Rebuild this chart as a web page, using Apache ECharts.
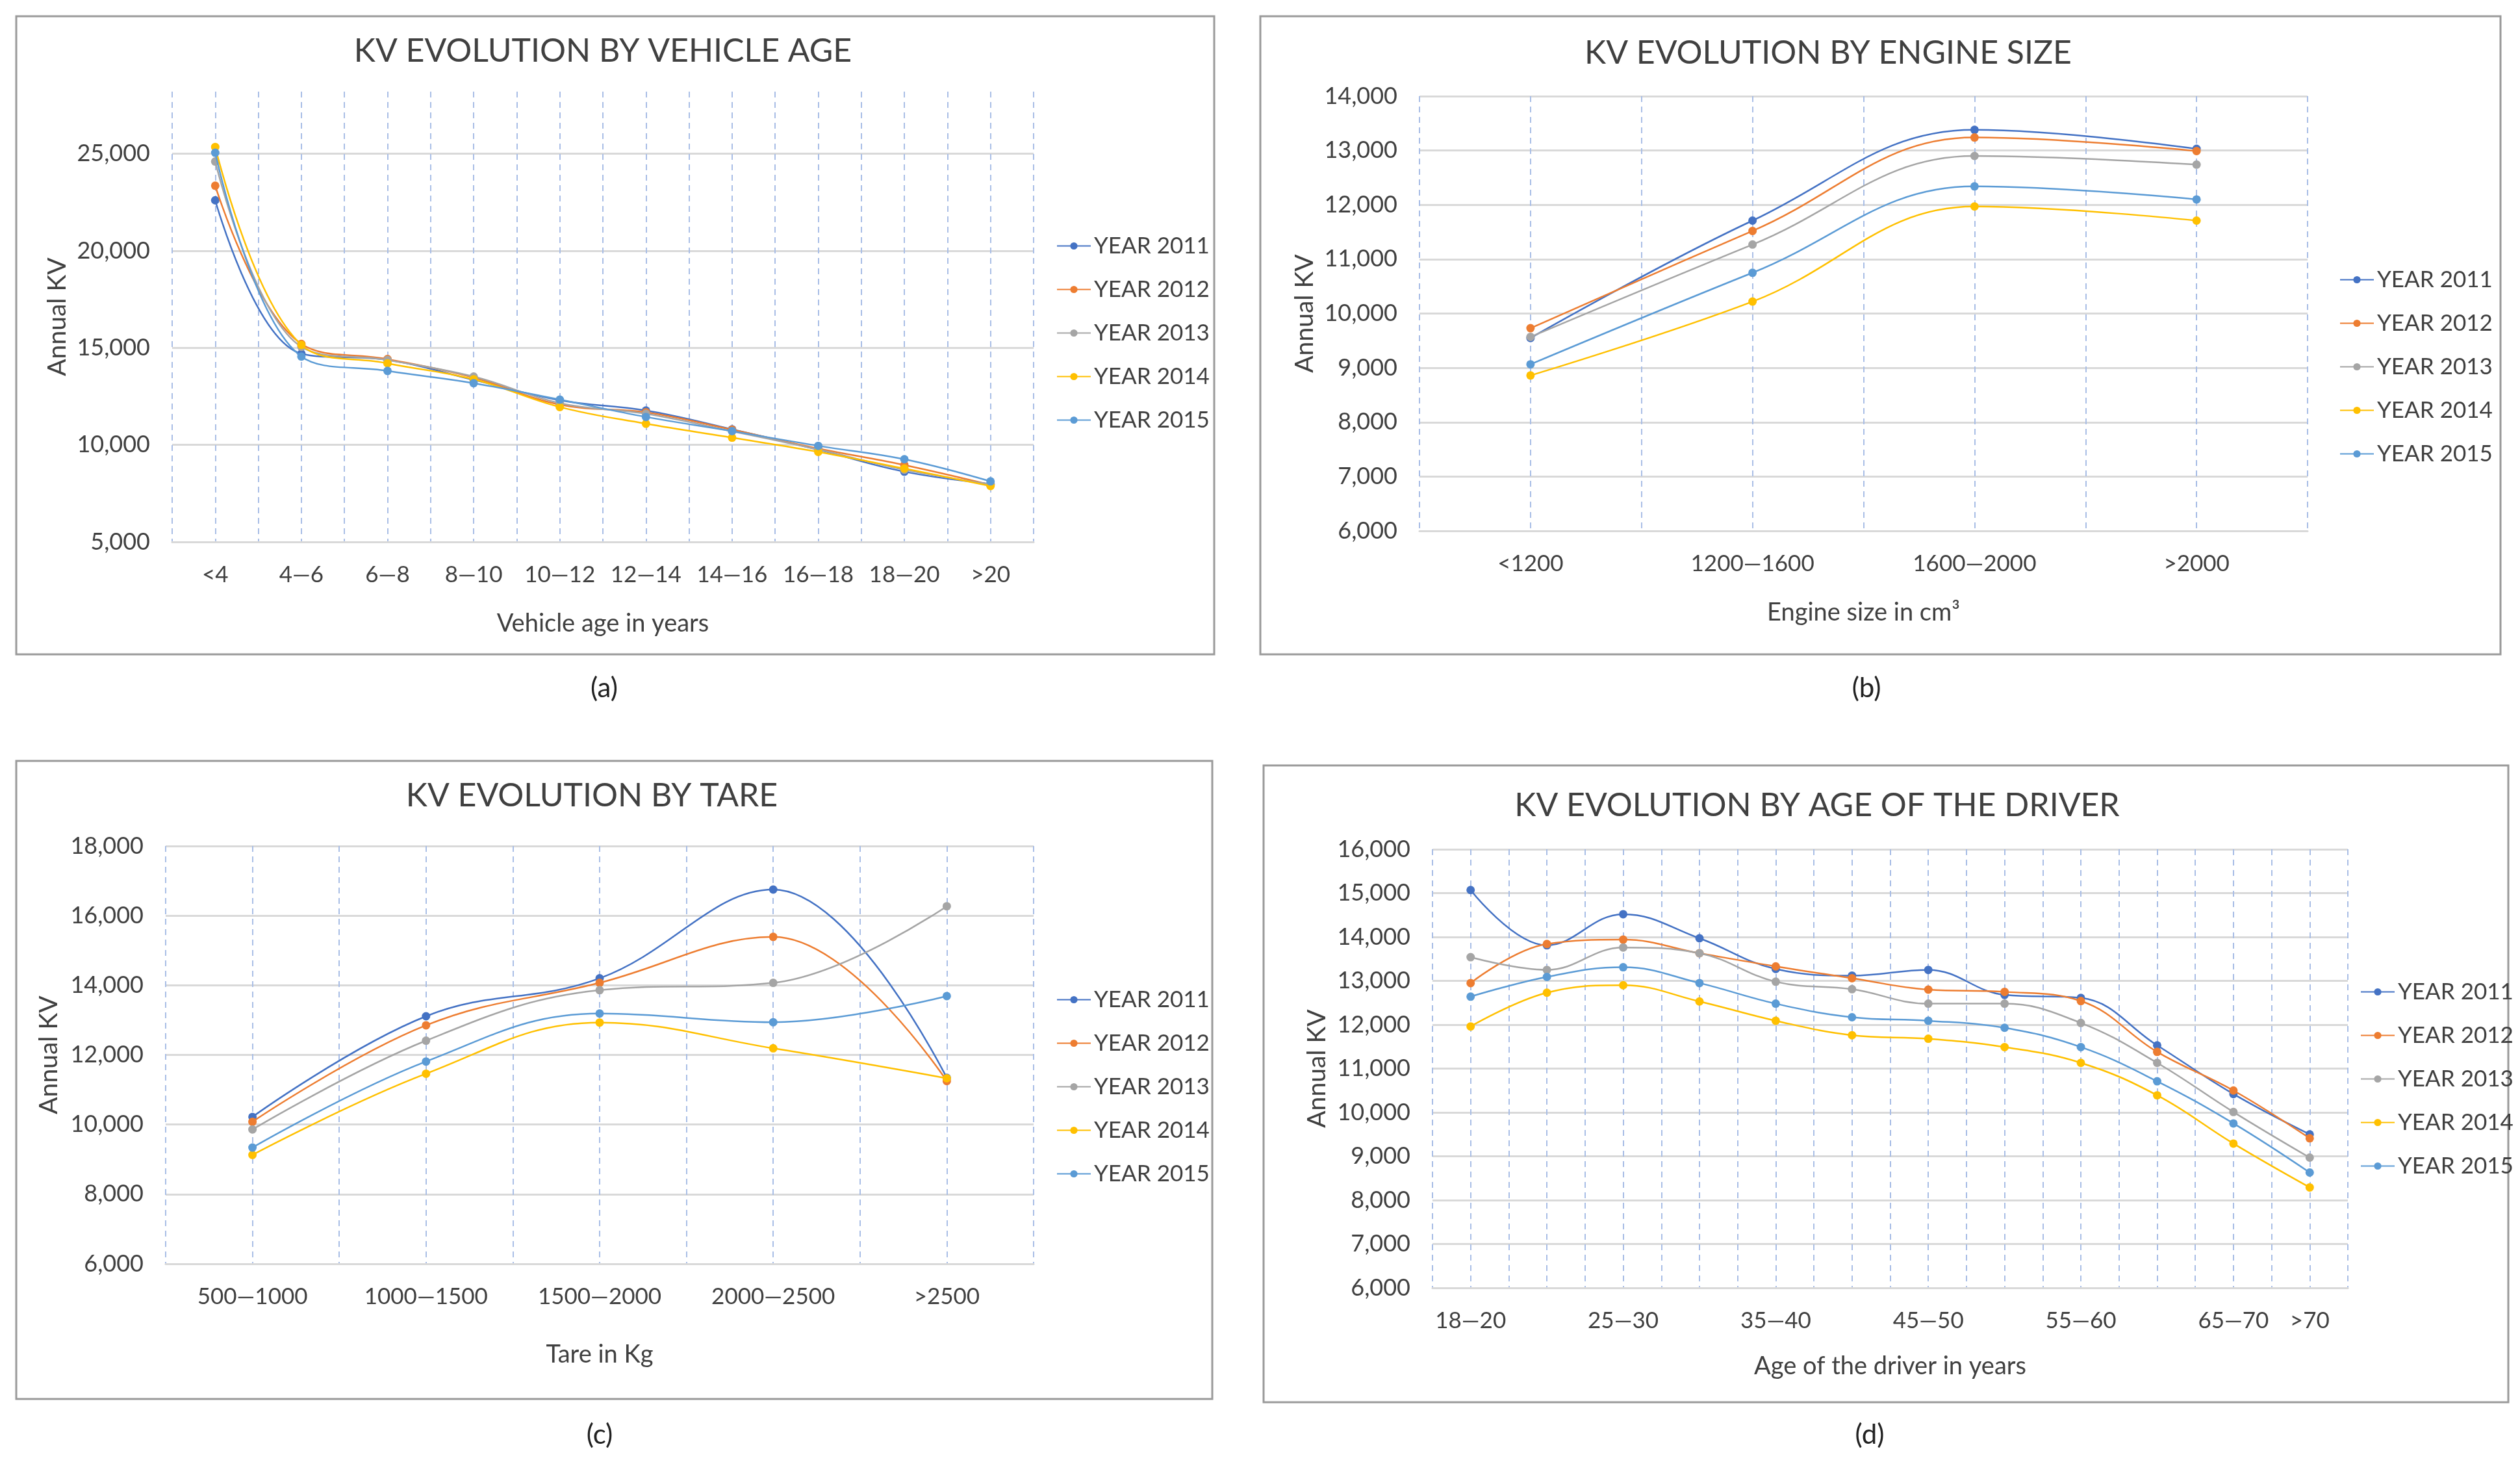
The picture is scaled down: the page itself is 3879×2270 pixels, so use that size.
<!DOCTYPE html>
<html>
<head>
<meta charset="utf-8">
<script src="https://cdn.jsdelivr.net/npm/echarts@6/dist/echarts.min.js"></script>
<style>
html,body{margin:0;padding:0;background:#fff;}
#main{width:3879px;height:2270px;}
</style>
</head>
<body>
<div id="main"></div>
<script>
// ---------- DATA ----------
const yearNames = ['YEAR 2011', 'YEAR 2012', 'YEAR 2013', 'YEAR 2014', 'YEAR 2015'];

const vehicleAgeCats = ['<4', '4—6', '6—8', '8—10', '10—12', '12—14', '14—16', '16—18', '18—20', '>20'];
const a2011 = [22600, 14700, 14380, 13350, 12300, 11770, 10800, 9750, 8620, 7990];
const a2012 = [23350, 15200, 14420, 13470, 12070, 11680, 10780, 9810, 8960, 7940];
const a2013 = [24600, 15050, 14370, 13520, 12150, 11600, 10700, 9760, 8720, 7970];
const a2014 = [25350, 15150, 14200, 13380, 11950, 11090, 10370, 9640, 8780, 7880];
const a2015 = [25050, 14550, 13810, 13180, 12330, 11440, 10710, 9950, 9260, 8120];

const engineCats = ['<1200', '1200—1600', '1600—2000', '>2000'];
const b2011 = [9550, 11710, 13380, 13030];
const b2012 = [9730, 11520, 13240, 12990];
const b2013 = [9570, 11270, 12900, 12740];
const b2014 = [8860, 10220, 11970, 11710];
const b2015 = [9065, 10750, 12340, 12100];

const tareCats = ['500—1000', '1000—1500', '1500—2000', '2000—2500', '>2500'];
const c2011 = [10220, 13110, 14200, 16750, 11340];
const c2012 = [10080, 12850, 14070, 15390, 11250];
const c2013 = [9860, 12410, 13860, 14070, 16270];
const c2014 = [9130, 11460, 12930, 12190, 11330];
const c2015 = [9340, 11810, 13190, 12940, 13690];

const driverCats = ['18—20', '20—25', '25—30', '30—35', '35—40', '40—45', '45—50', '50—55', '55—60', '60—65', '65—70', '>70'];
const d2011 = [15070, 13810, 14520, 13970, 13270, 13120, 13250, 12680, 12610, 11530, 10420, 9500];
const d2012 = [12950, 13840, 13940, 13630, 13330, 13060, 12800, 12750, 12540, 11380, 10500, 9410];
const d2013 = [13540, 13250, 13760, 13630, 12980, 12810, 12480, 12480, 12040, 11130, 10010, 8970];
const d2014 = [11960, 12730, 12900, 12530, 12090, 11760, 11680, 11490, 11130, 10390, 9290, 8290];
const d2015 = [12640, 13090, 13310, 12950, 12480, 12170, 12090, 11930, 11490, 10710, 9750, 8630];

const titles = ['KV EVOLUTION BY VEHICLE AGE', 'KV EVOLUTION BY ENGINE SIZE', 'KV EVOLUTION BY TARE', 'KV EVOLUTION BY AGE OF THE DRIVER'];
const xNames = ['Vehicle age in years', 'Engine size in cm³', 'Tare in Kg', 'Age of the driver in years'];
const yName = 'Annual KV';
const captions = ['(a)', '(b)', '(c)', '(d)'];

// ---------- STYLE / LAYOUT ----------
const colors = ['#4472C4', '#ED7D31', '#A5A5A5', '#FFC000', '#5B9BD5'];
const FONT = 'Lato';
const TXT = '#404040';
const GRIDC = '#D9D9D9';
const VGRIDC = '#A9BEE6';

const panels = [
  { cats: vehicleAgeCats, data: [a2011, a2012, a2013, a2014, a2015], min: 5000, max: 28200, interval: 5000,
    grid: { left: 265, top: 141, width: 1326, height: 693 }, box: [25, 25, 1844, 982],
    titleXY: [928, 79], legend: [1621, 356], yGap: 157, xGap: 107, cap: [930, 1059] },
  { cats: engineCats, data: [b2011, b2012, b2013, b2014, b2015], min: 6000, max: 14000, interval: 1000,
    grid: { left: 2185, top: 148, width: 1367, height: 669 }, box: [1940, 25, 1909, 982],
    titleXY: [2814, 82], legend: [3596, 408], yGap: 157, xGap: 107, cap: [2873, 1059] },
  { cats: tareCats, data: [c2011, c2012, c2013, c2014, c2015], min: 6000, max: 18000, interval: 2000,
    grid: { left: 255, top: 1302, width: 1336, height: 643 }, box: [25, 1171, 1841, 982],
    titleXY: [911, 1225], legend: [1621, 1516], yGap: 160, xGap: 121, cap: [923, 2208] },
  { cats: driverCats, data: [d2011, d2012, d2013, d2014, d2015], min: 6000, max: 16000, interval: 1000,
    grid: { left: 2205, top: 1307, width: 1409, height: 675 }, box: [1945, 1178, 1916, 980],
    titleXY: [2797, 1240], legend: [3628, 1504], yGap: 158, xGap: 102, cap: [2878, 2208] }
];

const fmt = v => v.toLocaleString('en-US');

const grids = [], xAxes = [], yAxes = [], series = [], legends = [], graphics = [];

panels.forEach((p, i) => {
  grids.push(Object.assign({ outerBoundsMode: 'none', containLabel: false }, p.grid));
  // category axis
  xAxes.push({
    type: 'category', gridIndex: i, data: p.cats, boundaryGap: true,
    axisLine: { show: true, lineStyle: { color: GRIDC, width: 3 } },
    axisTick: { show: false },
    splitLine: { show: false },
    axisLabel: {
      color: TXT, fontFamily: FONT, fontSize: 35, margin: 33,
      interval: i === 3 ? (idx => idx % 2 === 0 || idx === p.cats.length - 1) : 0
    },
    name: xNames[i], nameLocation: 'middle', nameGap: p.xGap,
    nameTextStyle: { color: TXT, fontFamily: FONT, fontSize: 38 }
  });
  // helper value axis for dashed vertical gridlines (category centres and boundaries)
  xAxes.push({
    type: 'value', gridIndex: i, min: 0, max: p.cats.length, interval: 0.5,
    axisLine: { show: false }, axisTick: { show: false }, axisLabel: { show: false },
    splitLine: { show: true, lineStyle: { color: VGRIDC, width: 2, type: [9, 7] } }
  });
  yAxes.push({
    type: 'value', gridIndex: i, min: p.min, max: p.max, interval: p.interval,
    axisLine: { show: false }, axisTick: { show: false },
    axisLabel: { color: TXT, fontFamily: FONT, fontSize: 36, margin: 34, formatter: fmt, showMaxLabel: i !== 0 },
    splitLine: { show: true, showMaxLine: i !== 0, lineStyle: { color: GRIDC, width: 3 } },
    name: yName, nameLocation: 'middle', nameRotate: 90, nameGap: p.yGap,
    nameTextStyle: { color: TXT, fontFamily: FONT, fontSize: 39 }
  });
  p.data.forEach((arr, k) => {
    series.push({
      type: 'line', name: yearNames[k], xAxisIndex: i * 2, yAxisIndex: i,
      data: arr, smooth: 0.4, symbol: 'circle', symbolSize: 13, showSymbol: true,
      lineStyle: { color: colors[k], width: 2.5 },
      itemStyle: { color: colors[k] },
      z: 3 + k
    });
  });
  legends.push({
    data: yearNames, orient: 'vertical', left: p.legend[0], top: p.legend[1],
    itemWidth: 52, itemHeight: 14, itemGap: 32,
    textStyle: { color: TXT, fontFamily: FONT, fontSize: 35 }
  });
  graphics.push({
    type: 'rect', shape: { x: p.box[0], y: p.box[1], width: p.box[2], height: p.box[3] },
    style: { fill: null, stroke: '#9A9A9A', lineWidth: 3 }, z: 0, silent: true
  });
  graphics.push({
    type: 'text', x: p.titleXY[0], y: p.titleXY[1],
    style: { text: titles[i], fill: TXT, font: '50px ' + FONT, textAlign: 'center', textVerticalAlign: 'middle' }
  });
  graphics.push({
    type: 'text', x: p.cap[0], y: p.cap[1],
    style: { text: captions[i], fill: '#222', font: '42px ' + FONT, textAlign: 'center', textVerticalAlign: 'middle' }
  });
});

const chart = echarts.init(document.getElementById('main'), null, { renderer: 'canvas' });
chart.setOption({
  backgroundColor: '#ffffff',
  animation: false,
  color: colors,
  grid: grids,
  xAxis: xAxes,
  yAxis: yAxes,
  legend: legends,
  series: series,
  graphic: graphics
});
</script>
</body>
</html>
